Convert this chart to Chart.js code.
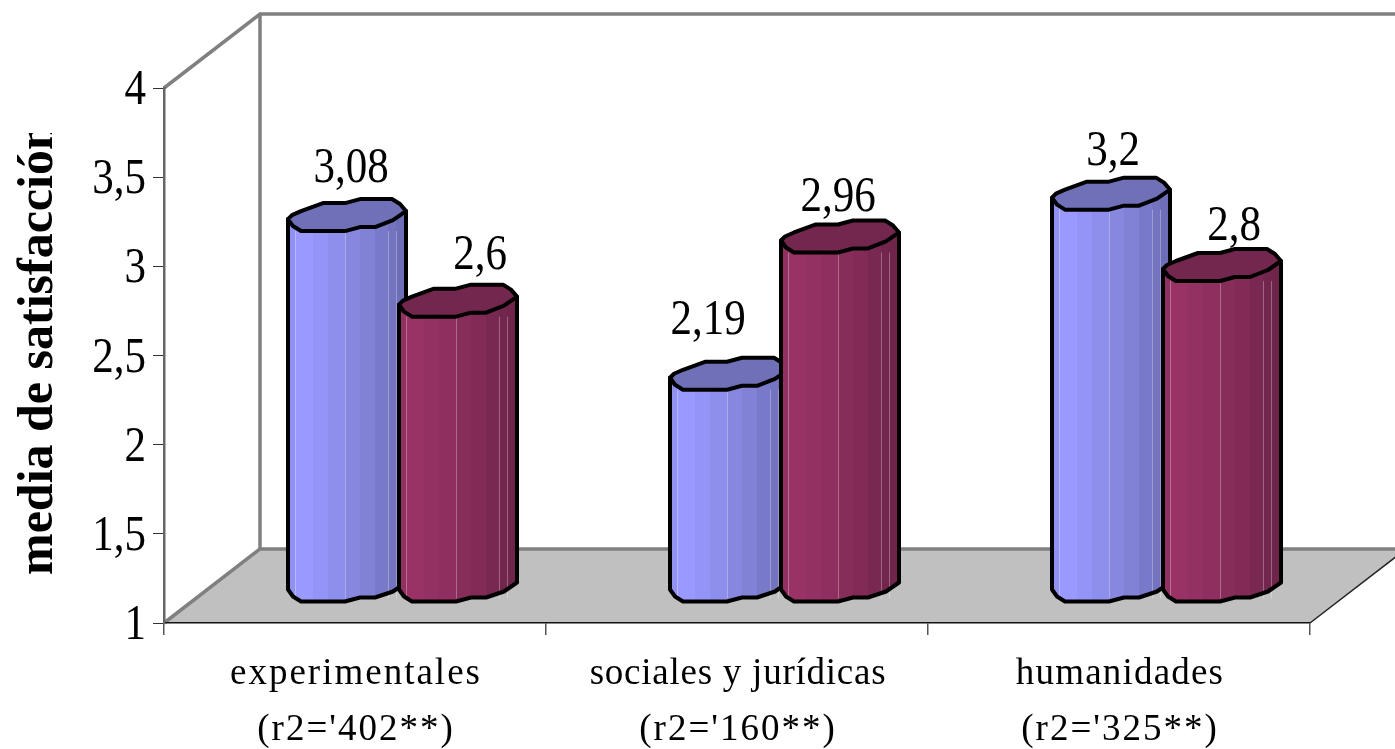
<!DOCTYPE html>
<html>
<head>
<meta charset="utf-8">
<title>media de satisfacción</title>
<script src="https://cdn.jsdelivr.net/npm/chart.js@4"></script>
<style>
  html, body { margin: 0; padding: 0; background: #fff; overflow: hidden; }
  canvas { display: block; }
</style>
</head>
<body>
<canvas id="myChart" width="1395" height="749"></canvas>
<script>
const categories = [
  ['experimentales', "(r2='402**)"],
  ['sociales y jurídicas', "(r2='160**)"],
  ['humanidades', "(r2='325**)"]
];
const serieA = [3.08, 2.19, 3.2];
const serieB = [2.6, 2.96, 2.8];
const axisTitle = 'media de satisfacción';

// hand placed value labels, [dx, dy] from the front top corner of the bar
const labelNudgeA = [[63, -49], [38, -56], [61, -45]];
const labelNudgeB = [[81, -48], [57, -41], [71, -41]];
// the first line of each category label is spaced differently
const firstLineSpacing = { 'experimentales': 2, 'sociales y jurídicas': 0.76, 'humanidades': 1.2 };

const FONT = '"Liberation Serif", "Times New Roman", serif';
const NARROW = 0.86;                    // digits are squeezed in the original
const DEPTH_X = 96, DEPTH_Y = -74;      // floor depth
const BAR_DX = 44, BAR_DY = -21;        // bars stand inside the floor

// outline of the column, relative to bar left / front y
const topBack = [[0, -12], [4, -16], [13, -20], [35, -28], [57, -28], [72, -32], [104, -32], [112, -27], [118, -20]];
const ringFront = [[118, -20], [105, -11], [87, -4], [72, -4], [57, 0], [13, 0], [5, -5], [0, -12]];
const baseFront = [[118, -19], [105, -10], [87, -4], [72, -4], [57, 0], [13, 0], [5, -5], [0, -12]];
const facetStops = [0, 7, 25, 40, 57, 72, 87, 100, 108, 118];
const facetShade = [0.95, 1, 0.97, 0.93, 0.88, 0.84, 0.79, 0.75, 0.72];
const lightLines = [7, 57, 100, 108];

const styleA = { side: [153, 153, 255], top: '#7070b8' };
const styleB = { side: [153, 51, 102], top: '#73274f' };

function sidePath(ctx, x0, yTop, yBase) {
  ctx.beginPath();
  ctx.moveTo(x0, yTop - 12);
  ctx.lineTo(x0 + 118, yTop - 20);
  baseFront.forEach(function(p) { ctx.lineTo(x0 + p[0], yBase + p[1]); });
  ctx.closePath();
}

function drawColumn(ctx, bar, style) {
  const x0 = bar.x - bar.width / 2 + BAR_DX;
  const yTop = bar.y + BAR_DY;
  const yBase = bar.base + BAR_DY;

  let grad = ctx.createLinearGradient(x0, 0, x0 + 118, 0);
  facetShade.forEach(function(s, i) {
    let c = 'rgb(' + style.side.map(function(v) { return Math.round(v * s); }).join(',') + ')';
    grad.addColorStop(facetStops[i] / 118, c);
    grad.addColorStop(facetStops[i + 1] / 118, c);
  });

  sidePath(ctx, x0, yTop, yBase);
  ctx.fillStyle = grad;
  ctx.fill();

  ctx.strokeStyle = 'rgba(255,255,255,0.3)';
  ctx.lineWidth = 1;
  lightLines.forEach(function(dx) {
    ctx.beginPath();
    ctx.moveTo(x0 + dx + 0.5, yTop);
    ctx.lineTo(x0 + dx + 0.5, yBase - 3);
    ctx.stroke();
  });

  ctx.strokeStyle = '#000';
  ctx.lineWidth = 4;
  ctx.lineJoin = 'round';
  sidePath(ctx, x0, yTop, yBase);
  ctx.stroke();

  ctx.beginPath();
  topBack.forEach(function(p, i) {
    if (i === 0) ctx.moveTo(x0 + p[0], yTop + p[1]);
    else ctx.lineTo(x0 + p[0], yTop + p[1]);
  });
  ringFront.forEach(function(p) { ctx.lineTo(x0 + p[0], yTop + p[1]); });
  ctx.closePath();
  ctx.fillStyle = style.top;
  ctx.fill();
  ctx.stroke();
}

const chart3d = {
  id: 'chart3d',
  beforeDraw(chart) {
    const ctx = chart.ctx;
    const x = chart.scales.x, y = chart.scales.y;
    const left = x.left, right = x.right, bottom = y.bottom, top = y.top;

    // text is stretched differently per axis in the original picture
    if (!x._spaced) {
      x._spaced = true;
      const drawX = x.drawLabels, drawY = y.drawLabels;
      x.drawLabels = function(area) {
        const fill = ctx.fillText;
        ctx.fillText = function(text, px, py) {
          ctx.letterSpacing = (firstLineSpacing[text] !== undefined ? firstLineSpacing[text] : 2) + 'px';
          fill.call(ctx, text, px + 1, py);
        };
        drawX.call(x, area);
        delete ctx.fillText;
        ctx.letterSpacing = '0px';
      };
      y.drawLabels = function(area) {
        const pivot = y.right - 18;
        ctx.save();
        ctx.translate(pivot, 3);
        ctx.scale(NARROW, 1);
        ctx.translate(-pivot, 0);
        drawY.call(y, area);
        ctx.restore();
      };
    }

    ctx.save();
    ctx.beginPath();
    ctx.moveTo(left, bottom);
    ctx.lineTo(left + DEPTH_X, bottom + DEPTH_Y);
    ctx.lineTo(right + DEPTH_X, bottom + DEPTH_Y);
    ctx.lineTo(right, bottom);
    ctx.closePath();
    ctx.fillStyle = '#c0c0c0';
    ctx.fill();

    ctx.strokeStyle = '#808080';
    ctx.lineWidth = 3.5;
    ctx.beginPath();
    ctx.moveTo(left, top);
    ctx.lineTo(left + DEPTH_X, top + DEPTH_Y);
    ctx.lineTo(right + DEPTH_X, top + DEPTH_Y);
    ctx.moveTo(left + DEPTH_X, top + DEPTH_Y);
    ctx.lineTo(left + DEPTH_X, bottom + DEPTH_Y);
    ctx.lineTo(left, bottom);
    ctx.moveTo(left + DEPTH_X, bottom + DEPTH_Y);
    ctx.lineTo(right + DEPTH_X, bottom + DEPTH_Y);
    ctx.stroke();

    ctx.strokeStyle = '#222';
    ctx.lineWidth = 1.5;
    ctx.beginPath();
    ctx.moveTo(right, bottom);
    ctx.lineTo(right + DEPTH_X, bottom + DEPTH_Y);
    ctx.stroke();
    ctx.restore();
  },
  beforeDatasetsDraw(chart) {
    const ctx = chart.ctx;
    ctx.save();
    const barsA = chart.getDatasetMeta(0).data;
    const barsB = chart.getDatasetMeta(1).data;
    barsA.forEach(function(bar) { drawColumn(ctx, bar, styleA); });
    barsB.forEach(function(bar) { drawColumn(ctx, bar, styleB); });

    // value labels
    ctx.fillStyle = '#000';
    ctx.font = '50px ' + FONT;
    ctx.textAlign = 'center';
    ctx.textBaseline = 'alphabetic';
    [[barsA, serieA, labelNudgeA], [barsB, serieB, labelNudgeB]].forEach(function(s) {
      s[0].forEach(function(bar, i) {
        const x0 = bar.x - bar.width / 2 + BAR_DX;
        ctx.save();
        ctx.translate(x0 + s[2][i][0], bar.y + BAR_DY + s[2][i][1]);
        ctx.scale(NARROW, 1);
        ctx.fillText(String(s[1][i]).replace('.', ','), 0, 0);
        ctx.restore();
      });
    });

    // axis title, cut off at the top like in the original
    ctx.beginPath();
    ctx.rect(0, 133, 70, 600);
    ctx.clip();
    ctx.translate(52, 575);
    ctx.rotate(-Math.PI / 2);
    ctx.font = 'bold 50px ' + FONT;
    ctx.textAlign = 'left';
    ctx.fillText(axisTitle, 0, 0);
    ctx.restore();
    return false;
  }
};

let ctx = document.getElementById('myChart').getContext('2d');
let myChart = new Chart(ctx, {
  type: 'bar',
  data: {
    labels: categories,
    datasets: [
      { label: 'serie 1', data: serieA, backgroundColor: '#9999ff' },
      { label: 'serie 2', data: serieB, backgroundColor: '#993366' }
    ]
  },
  plugins: [chart3d],
  options: {
    responsive: false,
    animation: false,
    layout: { padding: { left: 0, top: 88, right: 85, bottom: 0 } },
    plugins: { legend: { display: false }, tooltip: { enabled: false } },
    datasets: { bar: { categoryPercentage: 222 / 382, barPercentage: 1, base: 1 } },
    scales: {
      x: {
        afterFit: function(scale) { scale.height = 126; },
        grid: { drawOnChartArea: false, color: '#555', tickLength: 12, lineWidth: 1.5 },
        border: { color: '#111', width: 1.5 },
        ticks: {
          color: '#000',
          maxRotation: 0,
          autoSkip: false,
          padding: 12,
          font: { family: FONT, size: 37, lineHeight: 1.5 }
        }
      },
      y: {
        min: 1,
        max: 4,
        afterFit: function(scale) { scale.width = 164; },
        grid: { drawOnChartArea: false, color: '#333', tickLength: 11, lineWidth: 1 },
        border: { color: '#666', width: 2.5 },
        ticks: {
          stepSize: 0.5,
          color: '#000',
          padding: 7,
          font: { family: FONT, size: 50 },
          callback: function(value) { return String(value).replace('.', ','); }
        }
      }
    }
  }
});
</script>
</body>
</html>
